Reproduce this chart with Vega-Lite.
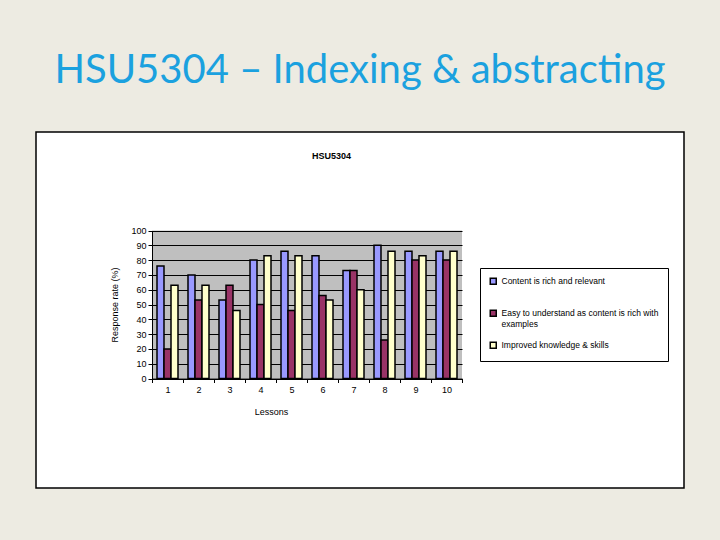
{
  "$schema": "https://vega.github.io/schema/vega-lite/v6.json",
  "width": 648,
  "height": 356,
  "autosize": "none",
  "padding": {"left": 36, "top": 132, "right": 36, "bottom": 52},
  "background": "#EDEBE2",
  "title": {
    "text": "HSU5304 – Indexing & abstracting",
    "font": "Lato",
    "fontSize": 40,
    "fontWeight": "normal",
    "color": "#1BA1DF",
    "anchor": "middle",
    "frame": "group",
    "baseline": "bottom",
    "offset": 1
  },
  "config": {
    "font": "Liberation Sans",
    "view": {"fill": "white", "stroke": "black", "strokeWidth": 1.5},
    "axisY": {
      "values": [0, 10, 20, 30, 40, 50, 60, 70, 80, 90, 100],
      "labelOverlap": false,
      "labelFontSize": 9,
      "labelColor": "black",
      "labelPadding": 2,
      "tickSize": 4,
      "tickColor": "black",
      "domainColor": "black",
      "grid": true,
      "gridColor": "black",
      "gridWidth": 1,
      "gridOpacity": 1,
      "titleFontSize": 9,
      "titleFontWeight": "normal",
      "titleColor": "black",
      "titlePadding": 11
    }
  },
  "data": {
    "values": [
      {"lesson": "1", "series": "Content is rich and relevant", "value": 76},
      {"lesson": "1", "series": "Easy to understand as content is rich with examples", "value": 20},
      {"lesson": "1", "series": "Improved knowledge & skills", "value": 63},
      {"lesson": "2", "series": "Content is rich and relevant", "value": 70},
      {"lesson": "2", "series": "Easy to understand as content is rich with examples", "value": 53},
      {"lesson": "2", "series": "Improved knowledge & skills", "value": 63},
      {"lesson": "3", "series": "Content is rich and relevant", "value": 53},
      {"lesson": "3", "series": "Easy to understand as content is rich with examples", "value": 63},
      {"lesson": "3", "series": "Improved knowledge & skills", "value": 46},
      {"lesson": "4", "series": "Content is rich and relevant", "value": 80},
      {"lesson": "4", "series": "Easy to understand as content is rich with examples", "value": 50},
      {"lesson": "4", "series": "Improved knowledge & skills", "value": 83},
      {"lesson": "5", "series": "Content is rich and relevant", "value": 86},
      {"lesson": "5", "series": "Easy to understand as content is rich with examples", "value": 46},
      {"lesson": "5", "series": "Improved knowledge & skills", "value": 83},
      {"lesson": "6", "series": "Content is rich and relevant", "value": 83},
      {"lesson": "6", "series": "Easy to understand as content is rich with examples", "value": 56},
      {"lesson": "6", "series": "Improved knowledge & skills", "value": 53},
      {"lesson": "7", "series": "Content is rich and relevant", "value": 73},
      {"lesson": "7", "series": "Easy to understand as content is rich with examples", "value": 73},
      {"lesson": "7", "series": "Improved knowledge & skills", "value": 60},
      {"lesson": "8", "series": "Content is rich and relevant", "value": 90},
      {"lesson": "8", "series": "Easy to understand as content is rich with examples", "value": 26},
      {"lesson": "8", "series": "Improved knowledge & skills", "value": 86},
      {"lesson": "9", "series": "Content is rich and relevant", "value": 86},
      {"lesson": "9", "series": "Easy to understand as content is rich with examples", "value": 80},
      {"lesson": "9", "series": "Improved knowledge & skills", "value": 83},
      {"lesson": "10", "series": "Content is rich and relevant", "value": 86},
      {"lesson": "10", "series": "Easy to understand as content is rich with examples", "value": 80},
      {"lesson": "10", "series": "Improved knowledge & skills", "value": 86}
    ]
  },
  "resolve": {"axis": {"x": "independent"}},
  "layer": [
    {
      "transform": [{"filter": "datum.series === 'Content is rich and relevant'"}],
      "mark": {"type": "rect", "fill": "black", "fillOpacity": 0.25},
      "encoding": {
        "x": {
          "field": "lesson",
          "type": "ordinal",
          "sort": null,
          "scale": {"range": [116, 426], "paddingInner": 0, "paddingOuter": 0},
          "axis": {
            "orient": "top",
            "labels": false,
            "ticks": false,
            "domain": false,
            "grid": false,
            "title": "HSU5304",
            "titleFontSize": 9,
            "titleFontWeight": "bold",
            "titleColor": "black",
            "titleX": 295,
            "titleY": 23,
            "titleBaseline": "middle",
            "titleAnchor": "middle"
          }
        },
        "y": {
          "datum": 100,
          "type": "quantitative",
          "scale": {"domain": [0, 100], "range": [246.5, 98.5], "nice": false, "zero": true},
          "axis": {
            "orient": "left",
            "offset": -116,
            "values": [0, 10, 20, 30, 40, 50, 60, 70, 80, 90, 100],
            "title": "Response rate (%)"
          }
        },
        "y2": {"datum": 0}
      }
    },
    {
      "mark": {"type": "bar", "stroke": "black", "strokeWidth": 1.5},
      "encoding": {
        "x": {
          "field": "lesson",
          "type": "ordinal",
          "sort": null,
          "axis": {
            "orient": "bottom",
            "offset": -109.5,
            "labelAngle": 0,
            "labelFontSize": 9,
            "labelColor": "black",
            "labelPadding": 3,
            "tickBand": "extent",
            "tickSize": 4,
            "tickColor": "black",
            "domainColor": "black",
            "grid": false,
            "title": "Lessons",
            "titleFontSize": 9,
            "titleFontWeight": "normal",
            "titleColor": "black",
            "titleX": 235,
            "titlePadding": 13
          }
        },
        "xOffset": {
          "field": "series",
          "type": "nominal",
          "sort": null,
          "scale": {"paddingInner": 0, "paddingOuter": 0.714}
        },
        "y": {
          "field": "value",
          "type": "quantitative",
          "axis": {
            "orient": "left",
            "offset": -116,
            "values": [0, 10, 20, 30, 40, 50, 60, 70, 80, 90, 100],
            "title": "Response rate (%)"
          }
        },
        "color": {
          "field": "series",
          "type": "nominal",
          "sort": null,
          "scale": {
            "domain": ["Content is rich and relevant", "Easy to understand as content is rich with examples", "Improved knowledge & skills"],
            "range": ["#9999FF", "#993366", "#FFFFCC"]
          },
          "legend": {
            "orient": "none",
            "legendX": 444,
            "legendY": 136,
            "title": null,
            "fillColor": "white",
            "strokeColor": "black",
            "padding": 9,
            "symbolType": "square",
            "symbolSize": 36,
            "symbolStrokeColor": "black",
            "symbolStrokeWidth": 1.5,
            "labelFontSize": 8.5,
            "labelColor": "black",
            "labelOffset": 4,
            "labelLimit": 300,
            "rowPadding": 10,
            "gridAlign": "all",
            "labelExpr": "datum.label == 'Easy to understand as content is rich with examples' ? ['Easy to understand as content is rich with', 'examples'] : datum.label"
          }
        }
      }
    }
  ]
}
